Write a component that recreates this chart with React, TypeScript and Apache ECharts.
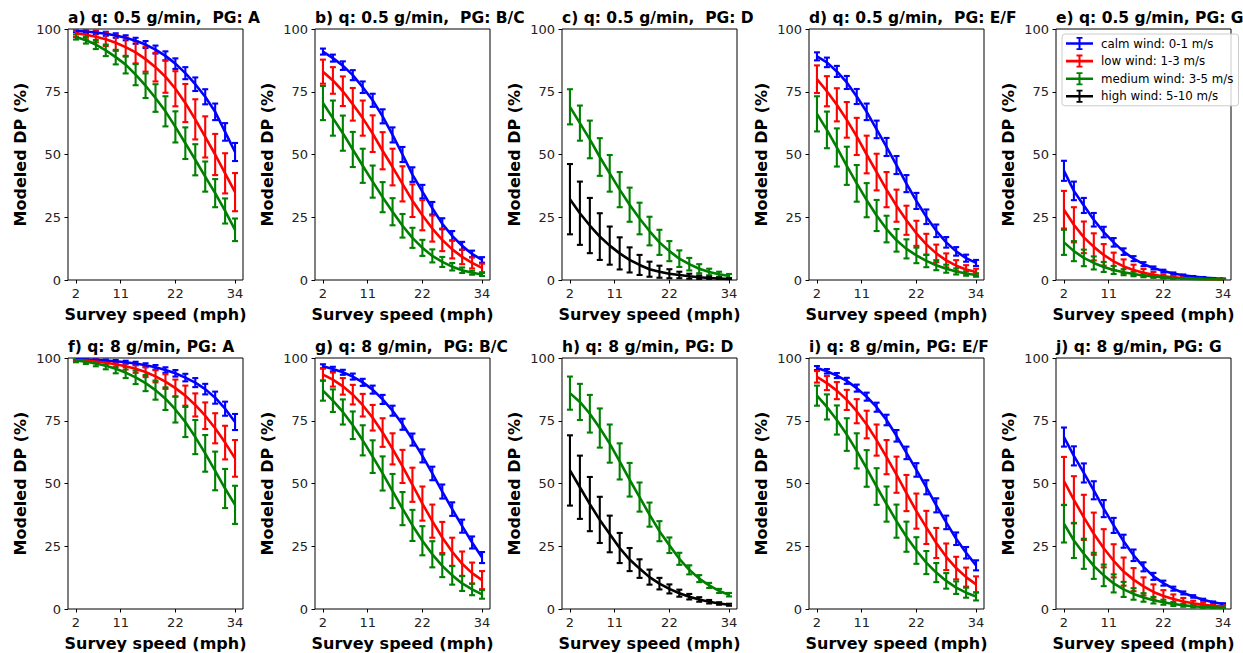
import React, { useEffect, useRef } from "react";
import * as echarts from "echarts";

// ---------------- data ----------------
const speeds = [2, 4, 6, 8, 10, 12, 14, 16, 18, 20, 22, 24, 26, 28, 30, 32, 34];
const xTickLabels = [2, 11, 22, 34];
const yTicks = [0, 25, 50, 75, 100];

const windNames = [
  "calm wind: 0-1 m/s",
  "low wind: 1-3 m/s",
  "medium wind: 3-5 m/s",
  "high wind: 5-10 m/s",
];
const windColors = ["#0000ff", "#ff0000", "#008000", "#000000"];

const panelTitles = [
  "a) q: 0.5 g/min,  PG: A",
  "b) q: 0.5 g/min,  PG: B/C",
  "c) q: 0.5 g/min,  PG: D",
  "d) q: 0.5 g/min,  PG: E/F",
  "e) q: 0.5 g/min, PG: G",
  "f) q: 8 g/min, PG: A",
  "g) q: 8 g/min,  PG: B/C",
  "h) q: 8 g/min, PG: D",
  "i) q: 8 g/min, PG: E/F",
  "j) q: 8 g/min, PG: G",
];

// a) q 0.5, PG A
const a_calm = [99.2, 99.0, 98.6, 98.1, 97.4, 96.5, 95.3, 93.8, 91.8, 89.3, 86.2, 82.4, 78.0, 73.0, 67.0, 59.0, 51.0];
const a_calm_err = [0.5, 0.6, 0.7, 0.8, 0.9, 1.0, 1.2, 1.4, 1.6, 1.8, 2.1, 2.4, 2.7, 3.0, 3.3, 3.5, 3.6];
const a_low = [98.3, 97.7, 96.9, 95.9, 94.5, 92.8, 90.7, 88.0, 84.8, 81.0, 76.2, 70.5, 64.0, 57.0, 50.0, 42.5, 35.0];
const a_low_err = [1.5, 1.8, 2.2, 2.7, 3.2, 3.8, 4.4, 5.0, 5.7, 6.4, 7.0, 7.6, 8.0, 8.2, 8.2, 8.0, 7.6];
const a_med = [96.8, 95.5, 93.8, 91.5, 88.8, 85.8, 81.8, 77.4, 72.5, 67.2, 61.0, 54.5, 47.9, 41.2, 34.6, 27.5, 20.0];
const a_med_err = [1.0, 1.3, 1.8, 2.3, 2.9, 3.5, 4.2, 4.9, 5.5, 6.0, 6.2, 6.3, 6.2, 6.0, 5.6, 5.0, 4.5];

// b) q 0.5, PG B/C
const b_calm = [91.0, 88.4, 85.4, 81.6, 76.8, 71.6, 65.2, 57.8, 50.0, 42.0, 35.2, 28.6, 22.4, 17.6, 13.6, 10.4, 8.0];
const b_calm_err = [1.2, 1.4, 1.7, 2.0, 2.3, 2.6, 2.8, 3.0, 3.0, 2.9, 2.7, 2.5, 2.2, 1.9, 1.6, 1.3, 1.1];
const b_low = [83.0, 79.5, 75.2, 70.0, 64.5, 58.3, 51.5, 45.0, 38.3, 31.6, 25.8, 20.5, 16.0, 12.2, 9.2, 6.8, 4.8];
const b_low_err = [4.8, 5.3, 5.9, 6.5, 7.0, 7.3, 7.4, 7.3, 7.0, 6.5, 6.0, 5.2, 4.5, 3.6, 2.9, 2.2, 1.7];
const b_med = [70.5, 64.5, 58.5, 52.0, 45.5, 39.2, 33.0, 27.2, 21.6, 16.8, 12.8, 9.6, 7.2, 5.3, 3.9, 2.9, 2.2];
const b_med_err = [6.8, 7.0, 7.0, 7.0, 6.8, 6.4, 6.0, 5.4, 4.7, 4.0, 3.2, 2.6, 2.0, 1.5, 1.1, 0.8, 0.6];

// c) q 0.5, PG D
const c_med = [69.0, 62.5, 56.0, 49.0, 42.5, 36.0, 30.0, 24.5, 19.5, 15.0, 11.5, 8.5, 6.3, 4.5, 3.2, 2.3, 1.6];
const c_med_err = [7.0, 7.0, 7.5, 7.5, 7.3, 7.0, 6.8, 6.3, 5.7, 5.0, 4.0, 3.3, 2.5, 1.8, 1.3, 1.0, 0.8];
const c_high = [32.2, 26.6, 21.7, 17.3, 13.7, 10.6, 8.0, 6.0, 4.3, 3.3, 2.5, 2.0, 1.5, 1.1, 0.8, 0.6, 0.4];
const c_high_err = [14.0, 12.6, 11.0, 9.3, 7.6, 6.4, 5.0, 4.0, 3.0, 2.4, 1.8, 1.3, 1.0, 0.7, 0.5, 0.4, 0.3];

// d) q 0.5, PG E/F
const d_calm = [89.1, 86.7, 83.1, 78.7, 73.1, 67.0, 60.0, 53.0, 45.8, 38.4, 31.5, 25.2, 19.6, 15.0, 11.4, 8.7, 6.8];
const d_calm_err = [1.6, 1.9, 2.2, 2.6, 3.0, 3.3, 3.5, 3.6, 3.6, 3.4, 3.2, 2.9, 2.5, 2.1, 1.7, 1.4, 1.2];
const d_low = [80.0, 75.2, 69.8, 63.8, 57.2, 50.0, 43.0, 36.0, 29.6, 23.8, 18.6, 14.2, 10.6, 7.8, 5.7, 4.2, 3.2];
const d_low_err = [5.5, 6.0, 6.6, 7.1, 7.4, 7.5, 7.3, 7.0, 6.4, 5.8, 5.0, 4.2, 3.5, 2.8, 2.2, 1.7, 1.3];
const d_med = [66.2, 59.8, 52.8, 45.5, 38.5, 31.8, 25.7, 20.3, 15.8, 12.4, 9.8, 7.6, 5.9, 4.5, 3.4, 2.6, 2.0];
const d_med_err = [7.0, 7.3, 7.6, 7.6, 7.3, 6.8, 6.2, 5.3, 4.5, 3.8, 3.1, 2.5, 2.0, 1.6, 1.2, 0.9, 0.7];

// e) q 0.5, PG G
const e_calm = [43.5, 35.5, 29.7, 24.0, 19.1, 15.0, 11.3, 8.5, 6.3, 4.8, 3.6, 2.6, 1.9, 1.4, 1.0, 0.7, 0.5];
const e_calm_err = [4.0, 3.7, 3.0, 2.7, 2.1, 1.7, 1.3, 1.0, 0.8, 0.6, 0.5, 0.4, 0.3, 0.2, 0.2, 0.1, 0.1];
const e_low = [28.0, 22.0, 17.0, 13.2, 10.0, 7.4, 5.4, 4.0, 2.9, 2.1, 1.5, 1.1, 0.8, 0.6, 0.45, 0.35, 0.25];
const e_low_err = [7.5, 7.0, 6.3, 5.4, 4.3, 3.5, 2.8, 2.1, 1.5, 1.1, 0.8, 0.6, 0.4, 0.3, 0.2, 0.2, 0.1];
const e_med = [15.0, 11.5, 8.8, 6.8, 5.2, 4.0, 3.1, 2.4, 1.8, 1.4, 1.05, 0.8, 0.6, 0.45, 0.35, 0.27, 0.2];
const e_med_err = [5.0, 4.0, 3.3, 2.6, 2.0, 1.6, 1.2, 0.9, 0.7, 0.5, 0.4, 0.3, 0.25, 0.2, 0.15, 0.1, 0.1];

// f) q 8, PG A
const f_calm = [99.5, 99.4, 99.2, 99.0, 98.7, 98.3, 97.8, 97.1, 96.3, 95.2, 93.9, 92.2, 90.2, 87.6, 84.2, 79.8, 74.5];
const f_calm_err = [0.2, 0.3, 0.3, 0.4, 0.5, 0.6, 0.7, 0.8, 0.9, 1.1, 1.3, 1.5, 1.8, 2.1, 2.4, 2.8, 3.2];
const f_low = [99.2, 99.0, 98.6, 98.1, 97.5, 96.7, 95.7, 94.4, 92.7, 90.6, 88.0, 85.0, 81.3, 77.0, 72.0, 66.3, 60.0];
const f_low_err = [0.5, 0.6, 0.7, 0.9, 1.1, 1.3, 1.6, 2.0, 2.4, 2.9, 3.4, 4.0, 4.6, 5.3, 6.0, 6.7, 7.3];
const f_med = [99.0, 98.5, 97.8, 96.9, 95.7, 94.2, 92.3, 90.0, 87.2, 83.8, 79.5, 74.5, 68.5, 62.0, 55.0, 48.0, 41.5];
const f_med_err = [0.7, 0.9, 1.1, 1.4, 1.8, 2.2, 2.7, 3.2, 3.8, 4.5, 5.2, 6.0, 6.8, 7.3, 7.7, 7.8, 7.6];

// g) q 8, PG B/C
const g_calm = [96.7, 95.6, 94.3, 92.6, 90.3, 87.4, 83.5, 79.0, 73.6, 67.5, 61.0, 54.0, 46.8, 39.8, 33.0, 26.5, 20.5];
const g_calm_err = [0.8, 0.9, 1.0, 1.2, 1.4, 1.6, 1.8, 2.0, 2.2, 2.4, 2.6, 2.7, 2.8, 2.7, 2.6, 2.4, 2.2];
const g_low = [93.4, 91.4, 88.7, 85.4, 81.2, 76.2, 70.3, 63.8, 56.8, 49.5, 42.0, 35.0, 28.5, 22.8, 18.0, 14.3, 11.5];
const g_low_err = [2.4, 2.8, 3.3, 3.9, 4.5, 5.1, 5.7, 6.2, 6.6, 6.8, 6.8, 6.6, 6.2, 5.6, 4.9, 4.2, 3.6];
const g_med = [87.0, 83.0, 78.5, 73.2, 67.2, 60.7, 54.0, 47.0, 40.0, 33.3, 27.2, 21.8, 17.2, 13.4, 10.2, 7.8, 5.8];
const g_med_err = [4.0, 4.5, 5.0, 5.5, 6.0, 6.5, 6.8, 6.8, 6.6, 6.2, 5.8, 5.2, 4.5, 3.7, 3.0, 2.3, 1.7];

// h) q 8, PG D
const h_med = [86.0, 82.5, 77.8, 72.1, 65.9, 58.8, 51.5, 44.6, 37.6, 31.0, 25.4, 20.0, 15.6, 12.1, 9.4, 7.2, 5.7];
const h_med_err = [6.6, 7.2, 7.5, 7.8, 7.6, 7.2, 6.7, 5.8, 4.8, 4.0, 3.1, 2.4, 1.8, 1.4, 1.0, 0.8, 0.7];
const h_high = [55.2, 48.5, 41.8, 35.5, 29.9, 24.3, 19.7, 16.1, 12.7, 10.1, 8.0, 6.3, 4.9, 3.8, 2.9, 2.2, 1.7];
const h_high_err = [14.0, 12.6, 10.8, 9.2, 7.3, 6.0, 4.6, 3.7, 3.0, 2.3, 1.8, 1.4, 1.1, 0.9, 0.7, 0.5, 0.4];

// i) q 8, PG E/F
const i_calm = [96.0, 94.7, 93.0, 90.9, 88.0, 84.6, 80.4, 75.3, 69.0, 62.2, 55.4, 48.5, 41.3, 34.5, 28.0, 22.4, 17.4];
const i_calm_err = [0.8, 0.9, 1.0, 1.2, 1.4, 1.6, 1.8, 2.1, 2.3, 2.5, 2.7, 2.8, 2.8, 2.7, 2.5, 2.3, 2.0];
const i_low = [92.5, 90.0, 87.0, 83.3, 78.8, 73.5, 67.3, 60.5, 53.5, 46.2, 39.0, 32.5, 26.3, 20.8, 16.3, 12.7, 9.8];
const i_low_err = [2.3, 2.8, 3.4, 4.0, 4.8, 5.5, 6.2, 6.8, 7.2, 7.2, 7.0, 6.6, 6.0, 5.3, 4.5, 3.8, 3.2];
const i_med = [85.0, 80.5, 75.3, 69.5, 63.0, 56.0, 48.8, 41.8, 35.0, 28.8, 23.3, 18.5, 14.5, 11.2, 8.5, 6.5, 5.0];
const i_med_err = [4.0, 5.0, 5.8, 6.5, 7.0, 7.3, 7.3, 7.0, 6.6, 6.0, 5.3, 4.6, 3.8, 3.1, 2.5, 2.0, 1.6];

// j) q 8, PG G
const j_calm = [68.5, 61.0, 54.2, 47.3, 40.0, 33.3, 27.0, 21.4, 16.8, 13.0, 10.3, 8.1, 6.4, 5.0, 3.7, 2.7, 2.0];
const j_calm_err = [3.8, 3.8, 3.8, 3.6, 3.4, 3.0, 2.6, 2.3, 1.8, 1.4, 1.0, 0.8, 0.6, 0.5, 0.4, 0.3, 0.3];
const j_low = [51.0, 43.5, 36.5, 30.0, 24.2, 19.2, 14.9, 11.7, 9.0, 6.8, 5.2, 4.0, 3.0, 2.3, 1.7, 1.3, 1.0];
const j_low_err = [9.6, 9.4, 9.0, 8.4, 7.6, 6.6, 5.6, 4.6, 3.6, 3.0, 2.3, 1.8, 1.4, 1.0, 0.8, 0.6, 0.5];
const j_med = [34.0, 27.3, 22.0, 17.2, 13.4, 10.2, 7.8, 6.0, 4.6, 3.5, 2.7, 2.0, 1.5, 1.1, 0.85, 0.65, 0.5];
const j_med_err = [7.5, 7.0, 6.0, 5.2, 4.3, 3.6, 3.0, 2.3, 1.7, 1.3, 1.0, 0.8, 0.6, 0.5, 0.4, 0.3, 0.25];

// panel -> list of [windIndex, values, errors]
type Curve = [number, number[], number[]];
const panelCurves: Curve[][] = [
  [[0, a_calm, a_calm_err], [1, a_low, a_low_err], [2, a_med, a_med_err]],
  [[0, b_calm, b_calm_err], [1, b_low, b_low_err], [2, b_med, b_med_err]],
  [[2, c_med, c_med_err], [3, c_high, c_high_err]],
  [[0, d_calm, d_calm_err], [1, d_low, d_low_err], [2, d_med, d_med_err]],
  [[0, e_calm, e_calm_err], [1, e_low, e_low_err], [2, e_med, e_med_err]],
  [[0, f_calm, f_calm_err], [1, f_low, f_low_err], [2, f_med, f_med_err]],
  [[0, g_calm, g_calm_err], [1, g_low, g_low_err], [2, g_med, g_med_err]],
  [[2, h_med, h_med_err], [3, h_high, h_high_err]],
  [[0, i_calm, i_calm_err], [1, i_low, i_low_err], [2, i_med, i_med_err]],
  [[0, j_calm, j_calm_err], [1, j_low, j_low_err], [2, j_med, j_med_err]],
];

// ---------------- layout ----------------
const COL_LEFT = [68, 315, 562, 809, 1056];
const ROW_TOP = [29, 358];
const GW = 175;
const GH = 251;
const FONT = "DejaVu Sans";

// legend icon: horizontal line with an error bar (filled shapes)
const LEGEND_ICON =
  "path://M0,5.2L27,5.2L27,7.8L0,7.8Z M12.5,0L14.5,0L14.5,13L12.5,13Z M10.5,0L16.5,0L16.5,1.8L10.5,1.8Z M10.5,11.2L16.5,11.2L16.5,13L10.5,13Z";

function buildOption() {
  const grids: any[] = [];
  const xAxes: any[] = [];
  const yAxes: any[] = [];
  const titles: any[] = [];
  const series: any[] = [];

  panelTitles.forEach((t, p) => {
    const col = p % 5;
    const row = Math.floor(p / 5);
    const left = COL_LEFT[col];
    const top = ROW_TOP[row];
    grids.push({
      left,
      top,
      width: GW,
      height: GH,
      show: true,
      borderColor: "#000",
      borderWidth: 1,
      backgroundColor: "transparent",
      containLabel: false,
    });
    titles.push({
      text: t,
      left: left,
      top: top - 19,
      padding: 0,
      textStyle: { fontFamily: FONT, fontSize: 15.5, fontWeight: "bold", color: "#000" },
    });
    xAxes.push({
      type: "value",
      gridIndex: p,
      min: 0.4,
      max: 35.6,
      name: "Survey speed (mph)",
      nameLocation: "middle",
      nameGap: 26,
      nameTextStyle: { fontFamily: FONT, fontSize: 16, fontWeight: "bold", color: "#000" },
      axisLine: { show: false },
      axisTick: {
        show: true,
        length: 3.5,
        customValues: xTickLabels,
        lineStyle: { color: "#000", width: 1 },
      },
      axisLabel: {
        show: true,
        customValues: xTickLabels,
        margin: 7,
        fontFamily: FONT,
        fontSize: 13,
        color: "#222",
      },
      splitLine: { show: false },
    });
    yAxes.push({
      type: "value",
      gridIndex: p,
      min: yTicks[0],
      max: yTicks[yTicks.length - 1],
      interval: 25,
      name: "Modeled DP (%)",
      nameLocation: "middle",
      nameGap: 40,
      nameTextStyle: { fontFamily: FONT, fontSize: 16, fontWeight: "bold", color: "#000" },
      axisLine: { show: false },
      axisTick: { show: true, length: 3.5, lineStyle: { color: "#000", width: 1 } },
      axisLabel: { show: true, margin: 7, fontFamily: FONT, fontSize: 13, color: "#222" },
      splitLine: { show: false },
    });

    panelCurves[p].forEach(([w, vals, errs]) => {
      const color = windColors[w];
      series.push({
        type: "line",
        name: windNames[w],
        xAxisIndex: p,
        yAxisIndex: p,
        data: speeds.map((s, k) => [s, vals[k]]),
        showSymbol: false,
        symbol: "none",
        color,
        lineStyle: { color, width: 2.6 },
        itemStyle: { color },
        clip: true,
        z: 2,
      });
      series.push({
        type: "custom",
        name: windNames[w],
        xAxisIndex: p,
        yAxisIndex: p,
        coordinateSystem: "cartesian2d",
        clip: true,
        z: 2,
        color,
        data: speeds.map((s, k) => [s, vals[k] - errs[k], vals[k] + errs[k]]),
        renderItem: (params: any, api: any) => {
          const x = api.value(0);
          const lo = api.coord([x, api.value(1)]);
          const hi = api.coord([x, api.value(2)]);
          const cw = 3;
          const st = { stroke: color, lineWidth: 2.1, fill: "none" };
          return {
            type: "group",
            children: [
              { type: "line", shape: { x1: lo[0], y1: lo[1], x2: hi[0], y2: hi[1] }, style: st },
              { type: "line", shape: { x1: lo[0] - cw, y1: lo[1], x2: lo[0] + cw, y2: lo[1] }, style: st },
              { type: "line", shape: { x1: hi[0] - cw, y1: hi[1], x2: hi[0] + cw, y2: hi[1] }, style: st },
            ],
          };
        },
      });
    });
  });

  return {
    animation: false,
    backgroundColor: "#fff",
    title: titles,
    grid: grids,
    xAxis: xAxes,
    yAxis: yAxes,
    legend: {
      show: true,
      orient: "vertical",
      left: 1062,
      top: 34,
      data: windNames,
      icon: LEGEND_ICON,
      itemWidth: 27,
      itemHeight: 13,
      itemGap: 4.6,
      padding: [3, 5, 3, 4],
      backgroundColor: "rgba(255,255,255,0.8)",
      borderColor: "#cccccc",
      borderWidth: 1,
      borderRadius: 3,
      selectedMode: false,
      textStyle: { fontFamily: FONT, fontSize: 11.8, color: "#000", padding: [0, 0, 0, 3] },
    },
    series,
  };
}

export default function App() {
  const ref = useRef<HTMLDivElement>(null);
  useEffect(() => {
    if (!ref.current) return;
    const chart = echarts.init(ref.current, undefined, { renderer: "svg" });
    chart.setOption(buildOption() as any);
    return () => chart.dispose();
  }, []);
  return (
    <div
      ref={ref}
      style={{ position: "fixed", left: 0, top: 0, width: 1243, height: 653, background: "#fff" }}
    />
  );
}
